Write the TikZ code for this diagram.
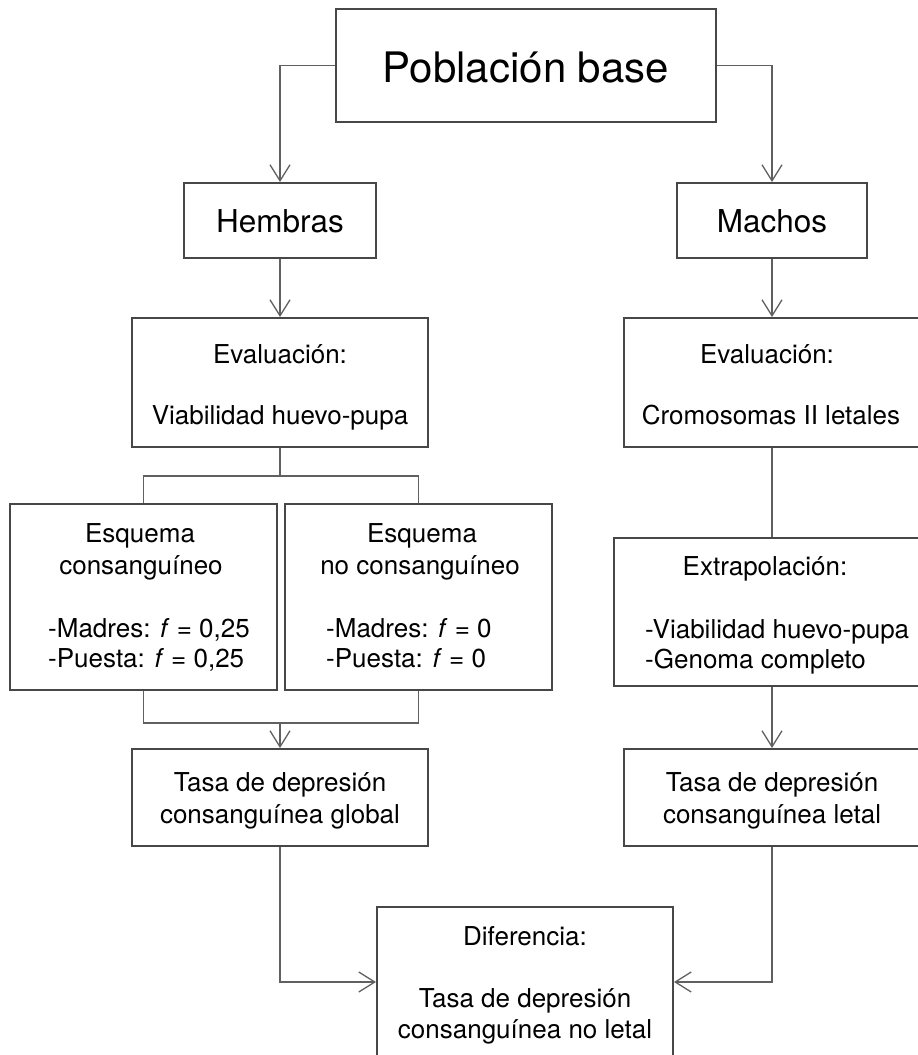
\documentclass[tikz,border=0pt]{standalone}
\usepackage{fontspec}
\setmainfont{TeX Gyre Heros}
\usetikzlibrary{arrows.meta}
\definecolor{boxc}{HTML}{474747}
\definecolor{linec}{HTML}{606060}
\tikzset{
  box/.style={draw=boxc, line width=2pt, rectangle, inner sep=0pt, fill=white},
  conn/.style={draw=linec, line width=1.3pt},
  arr/.style={conn, -{Straight Barb[length=16pt,width=20pt,line width=1.3pt]}},
  txt/.style={inner sep=0pt, anchor=base, font=\fontsize{26}{31}\selectfont},
  txtl/.style={txt, anchor=base west},
  big/.style={inner sep=0pt, anchor=base, font=\fontsize{42}{50}\selectfont},
  mid/.style={inner sep=0pt, anchor=base, font=\fontsize{31.5}{38}\selectfont}
}
\begin{document}
\begin{tikzpicture}[x=1pt,y=-1pt]
\useasboundingbox (0,0) rectangle (918,1055);
% boxes
\node[box, minimum width=380pt, minimum height=113pt] (pob) at (526,65.5) {};
\node[box, minimum width=192pt, minimum height=75pt] (hem) at (280,220.5) {};
\node[box, minimum width=190pt, minimum height=75pt] (mac) at (772,220.5) {};
\node[box, minimum width=296pt, minimum height=129pt] (evl) at (280,382.5) {};
\node[box, minimum width=296pt, minimum height=129pt] (evr) at (772,382.5) {};
\node[box, minimum width=267pt, minimum height=186pt] (esq1) at (143.5,597) {};
\node[box, minimum width=267pt, minimum height=186pt] (esq2) at (418.5,597) {};
\node[box, minimum width=316pt, minimum height=148pt] (ext) at (772,612) {};
\node[box, minimum width=296pt, minimum height=97pt] (tg) at (280,797.5) {};
\node[box, minimum width=296pt, minimum height=97pt] (tl) at (772,797.5) {};
\node[box, minimum width=296pt, minimum height=150pt] (dif) at (525,982) {};
% connectors
\draw[arr] (pob.west) -| (hem.north);
\draw[arr] (pob.east) -| (mac.north);
\draw[arr] (hem.south) -- (evl.north);
\draw[arr] (mac.south) -- (evr.north);
\coordinate (fk) at (280,476);
\draw[conn] (evl.south) -- (fk);
\draw[conn] (esq1.north) |- (fk) -| (esq2.north);
\coordinate (jn) at (280,723);
\draw[conn] (esq1.south) |- (jn) -| (esq2.south);
\draw[arr] (jn) -- (tg.north);
\draw[conn] (evr.south) -- (ext.north);
\draw[arr] (ext.south) -- (tl.north);
\draw[arr] (tg.south) |- (dif.west);
\draw[arr] (tl.south) |- (dif.east);
% texts
\node[big] (tpob) at (526,82) {Población base};
\node[mid] (them) at (280,232) {Hembras};
\node[mid] (tmac) at (772,232) {Machos};
\node[txt] (tevl1) at (280,363) {Evaluación:};
\node[txt] (tevl2) at (280,424) {Viabilidad huevo-pupa};
\node[txt] (tevr1) at (767,363) {Evaluación:};
\node[txt] (tevr2) at (771,424) {Cromosomas II letales};
\node[txt] (tesa1) at (140,542) {Esquema};
\node[txt] (tesa2) at (141,574) {consanguíneo};
\node[txtl] (tesa3) at (48,637) {-Madres: \textit{f} = 0,25};
\node[txtl] (tesa4) at (48,667) {-Puesta: \textit{f} = 0,25};
\node[txt] (tesb1) at (422,542) {Esquema};
\node[txt] (tesb2) at (420,574) {no consanguíneo};
\node[txtl] (tesb3) at (326,637) {-Madres: \textit{f} = 0};
\node[txtl] (tesb4) at (326,667) {-Puesta: \textit{f} = 0};
\node[txt] (text1) at (765,575) {Extrapolación:};
\node[txtl] (text2) at (645,638) {-Viabilidad huevo-pupa};
\node[txtl] (text3) at (645,668) {-Genoma completo};
\node[txt] (ttg1) at (280,791) {Tasa de depresión};
\node[txt] (ttg2) at (280,823) {consanguínea global};
\node[txt] (ttl1) at (772,791) {Tasa de depresión};
\node[txt] (ttl2) at (772,823) {consanguínea letal};
\node[txt] (tdif1) at (525,945) {Diferencia:};
\node[txt] (tdif2) at (525,1007) {Tasa de depresión};
\node[txt] (tdif3) at (525,1038) {consanguínea no letal};
\end{tikzpicture}
\end{document}
